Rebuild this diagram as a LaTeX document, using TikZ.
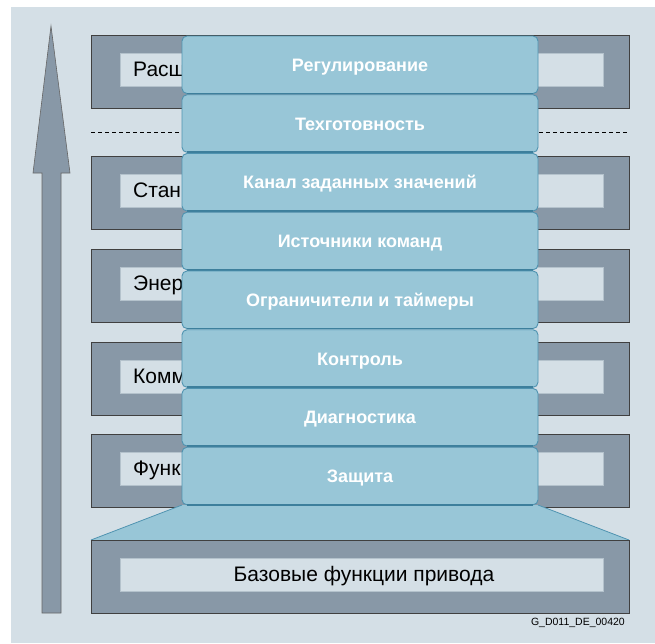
\documentclass[tikz,border=0pt]{standalone}
\usepackage{fontspec}
\setmainfont{Liberation Sans}
\definecolor{bg}{HTML}{D4DFE6}
\definecolor{boxgray}{HTML}{8898A7}
\definecolor{tabblue}{HTML}{98C6D7}
\definecolor{tabedge}{HTML}{4F93B0}
\definecolor{tabshadow}{HTML}{3D7F9C}
\definecolor{inneredge}{HTML}{B4C2CC}
\begin{document}
\begin{tikzpicture}[x=1pt,y=-1pt,
  graybox/.style={fill=boxgray,draw=black!75,line width=0.8pt},
  innerbox/.style={fill=bg,draw=inneredge,line width=0.6pt},
  graytext/.style={anchor=base west,inner sep=0pt,font=\fontsize{21}{25}\selectfont,text=black},
  tabbox/.style={fill=tabblue,draw=tabedge,line width=0.9pt,rounded corners=5pt,
    minimum width=356pt,minimum height=57.5pt,inner sep=0pt,outer sep=0pt,
    text height=13pt,text depth=0pt,
    font=\fontsize{18}{21}\selectfont\bfseries,text=white},
  arrowshape/.style={fill=boxgray,draw=black!60,line width=0.6pt}]
\useasboundingbox (0,0) rectangle (655,643);
\fill[bg] (11,7) rectangle (655,643);
% big arrow
\draw[arrowshape] (51,26) -- (70,173) -- (61,173) -- (61,613) -- (42,613) -- (42,173) -- (33,173) -- cycle;
% grey layer boxes
\foreach \t/\lbl/\n in {35/Расщ/a,156/Стан/b,249/Энер/c,342/Комм/d,434/Функ/e} {
  \draw[graybox] (91,\t) rectangle ++(538,73);
  \draw[innerbox] (120,\t+18) rectangle ++(483,33);
  \node[graytext] (g\n) at (133,\t+41) {\lbl};
}
% dashed separator
\coordinate (dl) at (91,132);
\coordinate (dr) at (629,132);
\draw[dash pattern=on 4pt off 3pt,line width=0.8pt] (dl) -- (dr);
% trapezoid
\fill[tabblue] (182,505) -- (91,540) -- (629,540) -- (538,505) -- cycle;
\draw[tabedge,line width=0.8pt] (182,505) -- (91,540);
\draw[tabedge,line width=0.8pt] (538,505) -- (629,540);
% base box
\draw[graybox] (91,540) rectangle (629,613);
\draw[innerbox] (120,558) rectangle (603,591);
\node[graytext,anchor=base] (base) at (364,581.5) {Базовые функции привода};
% tabs
\foreach \i/\lbl in {0/Регулирование,1/Техготовность,2/Канал заданных значений,3/Источники команд,4/Ограничители и таймеры,5/Контроль,6/Диагностика,7/Защита} {
  \pgfmathsetmacro\ty{36+58.75*\i+28.75}
  \node[tabbox] (t\i) at (360,\ty) {\lbl};
  \draw[tabshadow,line width=1.6pt] ([xshift=5pt]t\i.south west) -- ([xshift=-5pt]t\i.south east);
}
\node[anchor=base east,inner sep=0pt,font=\fontsize{10.5}{12}\selectfont] (code) at (625,625) {G\_D011\_DE\_00420};
\end{tikzpicture}
\end{document}
